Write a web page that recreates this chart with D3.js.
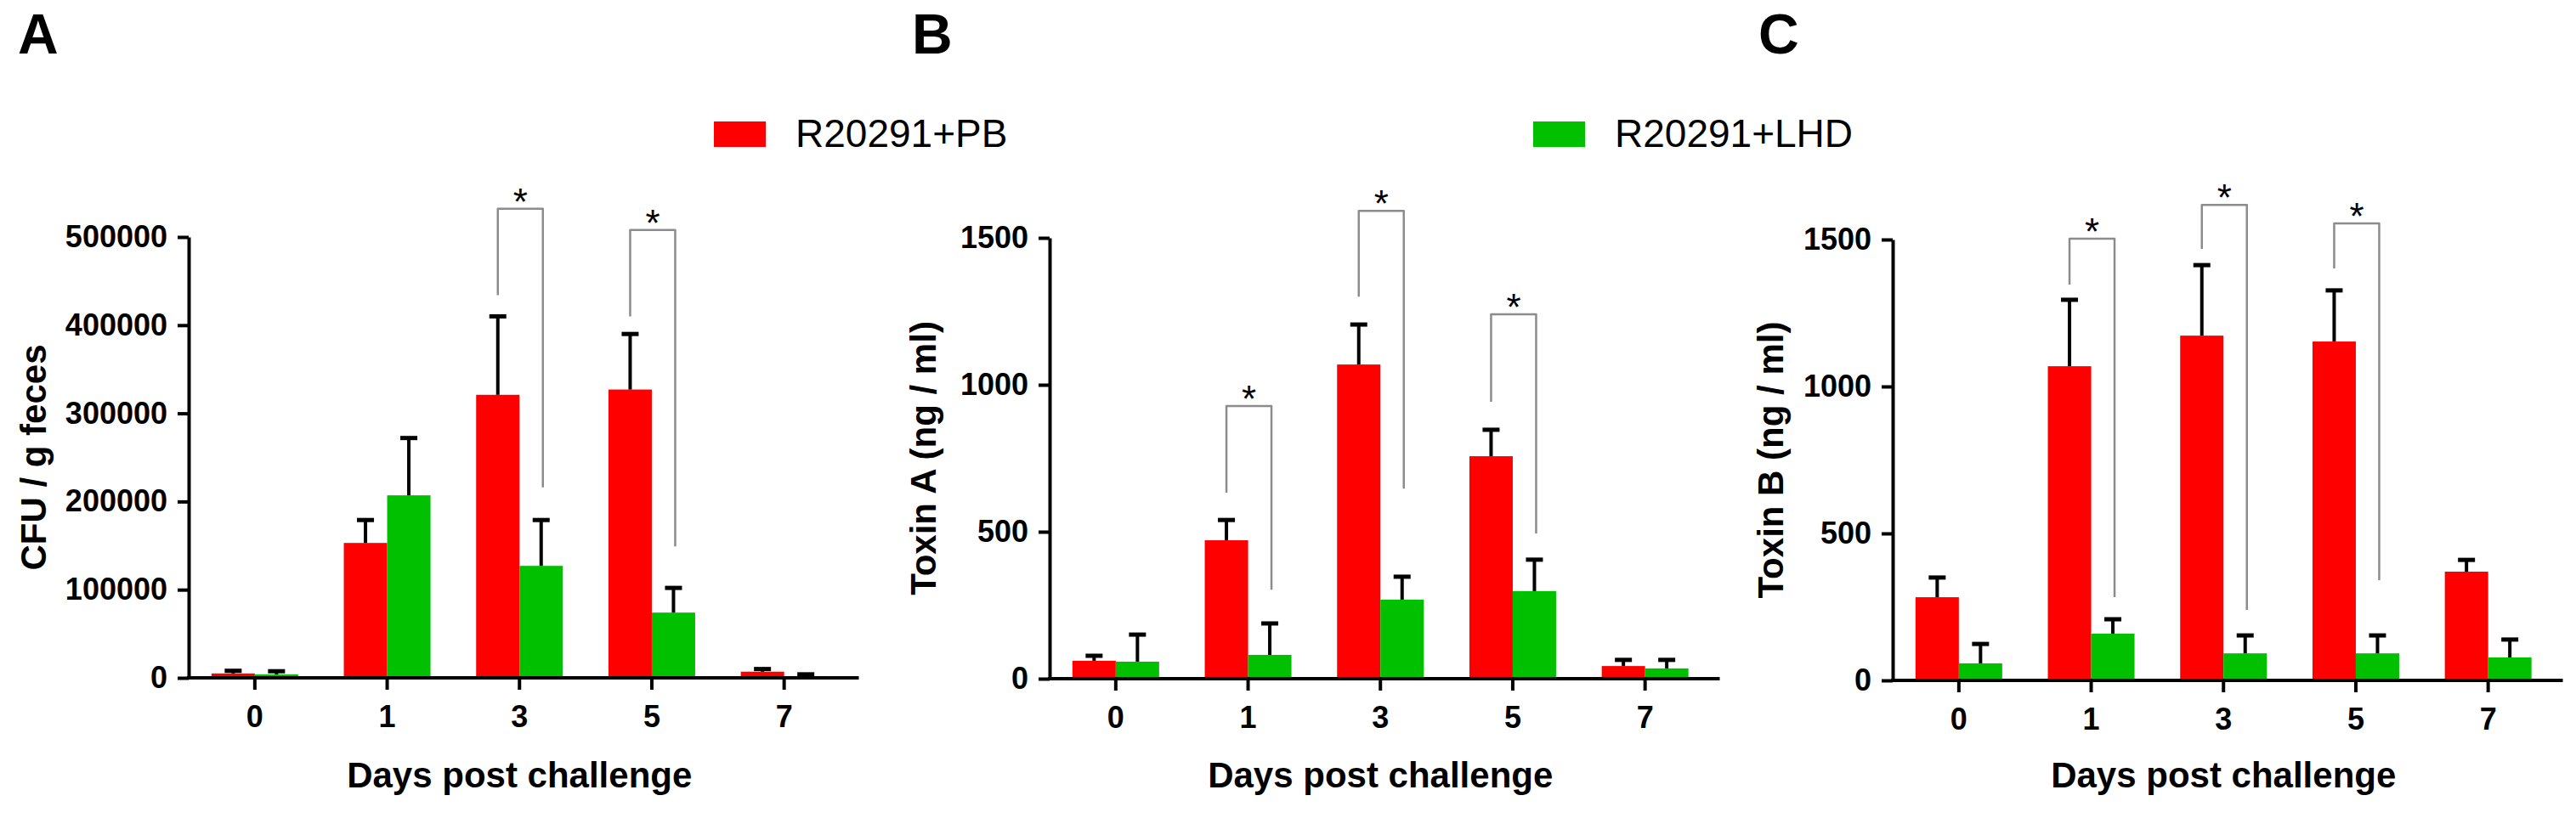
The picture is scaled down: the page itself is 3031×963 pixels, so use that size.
<!DOCTYPE html>
<html>
<head>
<meta charset="utf-8">
<script src="https://cdn.jsdelivr.net/npm/d3@7"></script>
<style>
    body { margin: 0; background: #fff; }
    text { font-family: "Liberation Sans", Arial, Helvetica, sans-serif; }
</style>
</head>
<body>
<svg id="chart" width="3031" height="963"></svg>
<script>
// values: mean and upper error (SEM) per day
var days = ["0", "1", "3", "5", "7"];
var seriesNames = ["R20291+PB", "R20291+LHD"];
var seriesColors = ["#ff0000", "#00c000"];

var cfuPB = [5000, 153000, 321000, 327000, 7000],
    cfuPBErr = [3000, 26000, 89000, 63000, 3000],
    cfuLHD = [4000, 207000, 127000, 74000, 2000],
    cfuLHDErr = [3500, 65000, 52000, 28000, 2000];

var toxAPB = [61, 471, 1069, 757, 43],
    toxAPBErr = [17, 69, 136, 90, 21],
    toxALHD = [58, 81, 269, 298, 35],
    toxALHDErr = [92, 107, 78, 107, 29];

var toxBPB = [283, 1069, 1173, 1153, 370],
    toxBPBErr = [67, 226, 240, 174, 40],
    toxBLHD = [58, 159, 92, 92, 78],
    toxBLHDErr = [66, 49, 61, 61, 61];

// significance brackets: day, bracket top, left leg end, right leg end (axis units)
var cfuSig = [["3", 532000, 434000, 216000], ["5", 508000, 410000, 149000]];
var toxASig = [["1", 928, 633, 303], ["3", 1592, 1300, 647], ["5", 1240, 942, 494]];
var toxBSig = [["1", 1503, 1347, 283], ["3", 1618, 1468, 240], ["5", 1555, 1402, 341]];

var cfuTicks = [0, 100000, 200000, 300000, 400000, 500000];
var toxTicks = [0, 500, 1000, 1500];

var panels = [
    { letter: "A", letterX: 21, axisX: 222, y0: 798, yTop: 279, max: 500000, ticks: cfuTicks,
      title: "CFU / g feces", titleX: 54,
      pb: cfuPB, pbErr: cfuPBErr, lhd: cfuLHD, lhdErr: cfuLHDErr, sig: cfuSig },
    { letter: "B", letterX: 1073, axisX: 1235, y0: 799, yTop: 280, max: 1500, ticks: toxTicks,
      title: "Toxin A (ng / ml)", titleX: 1101,
      pb: toxAPB, pbErr: toxAPBErr, lhd: toxALHD, lhdErr: toxALHDErr, sig: toxASig },
    { letter: "C", letterX: 2069, axisX: 2227, y0: 801, yTop: 282, max: 1500, ticks: toxTicks,
      title: "Toxin B (ng / ml)", titleX: 2098,
      pb: toxBPB, pbErr: toxBPBErr, lhd: toxBLHD, lhdErr: toxBLHDErr, sig: toxBSig }
];

var svg = d3.select("#chart");
var bandStep = 155.7,
    barW = 51,
    capW = 20;

function drawPanel(p) {

    let g = svg.append("g");

    let x = d3.scaleBand()
        .domain(days)
        .range([p.axisX, p.axisX + bandStep * days.length]);

    let y = d3.scaleLinear()
        .domain([0, p.max])
        .range([p.y0, p.yTop]);

    let rows = days.map(function(d, i) {
        return [
            { day: d, s: 0, v: p.pb[i], e: p.pbErr[i] },
            { day: d, s: 1, v: p.lhd[i], e: p.lhdErr[i] }
        ];
    }).flat();

    function cx(d) {
        let c = x(d.day) + x.bandwidth() / 2;
        return d.s === 0 ? c - barW / 2 : c + barW / 2;
    }

    // bars
    g.selectAll(".bar")
        .data(rows)
        .enter().append("rect")
        .attr("class", "bar")
        .attr("x", function(d) { return cx(d) - barW / 2; })
        .attr("y", function(d) { return y(d.v); })
        .attr("width", barW)
        .attr("height", function(d) { return p.y0 - y(d.v); })
        .attr("fill", function(d) { return seriesColors[d.s]; });

    // error bars (upper only)
    let err = g.selectAll(".err")
        .data(rows)
        .enter().append("g")
        .attr("class", "err")
        .attr("stroke", "#000");

    err.append("line")
        .attr("x1", cx).attr("x2", cx)
        .attr("y1", function(d) { return y(d.v); })
        .attr("y2", function(d) { return y(d.v + d.e); })
        .attr("stroke-width", 4);

    err.append("line")
        .attr("x1", function(d) { return cx(d) - capW / 2; })
        .attr("x2", function(d) { return cx(d) + capW / 2; })
        .attr("y1", function(d) { return y(d.v + d.e); })
        .attr("y2", function(d) { return y(d.v + d.e); })
        .attr("stroke-width", 5);

    // y axis
    let yAxis = g.append("g")
        .attr("transform", "translate(" + p.axisX + ",0)")
        .call(d3.axisLeft(y).tickValues(p.ticks).tickSize(13).tickSizeOuter(0).tickPadding(12)
            .tickFormat(d3.format("d")));
    yAxis.select(".domain").attr("stroke-width", 4);
    yAxis.selectAll(".tick line").attr("stroke-width", 4);
    yAxis.selectAll(".tick text")
        .attr("font-size", 36)
        .attr("font-weight", "bold")
        .attr("fill", "#000")
        .attr("font-family", "Liberation Sans, Arial, sans-serif");

    // x axis
    let xAxis = g.append("g")
        .attr("transform", "translate(0," + p.y0 + ")")
        .call(d3.axisBottom(x).tickSize(14).tickSizeOuter(0).tickPadding(18));
    xAxis.select(".domain").remove();
    xAxis.append("line")
        .attr("x1", p.axisX - 2)
        .attr("x2", x.range()[1] + 10)
        .attr("stroke", "#000")
        .attr("stroke-width", 4);
    xAxis.selectAll(".tick line").attr("stroke-width", 4);
    xAxis.selectAll(".tick text")
        .attr("font-size", 36)
        .attr("font-weight", "bold")
        .attr("fill", "#000")
        .attr("font-family", "Liberation Sans, Arial, sans-serif");

    // axis titles
    g.append("text")
        .attr("x", x(days[2]) + x.bandwidth() / 2)
        .attr("y", 927)
        .attr("text-anchor", "middle")
        .attr("font-size", 42)
        .attr("font-weight", "bold")
        .text("Days post challenge");

    g.append("text")
        .attr("transform", "translate(" + p.titleX + "," + (p.y0 + p.yTop) / 2 + ") rotate(-90)")
        .attr("text-anchor", "middle")
        .attr("font-size", 42)
        .attr("font-weight", "bold")
        .text(p.title);

    // panel letter
    g.append("text")
        .attr("x", p.letterX)
        .attr("y", 63)
        .attr("font-size", 66)
        .attr("font-weight", "bold")
        .text(p.letter);

    // significance brackets
    let sig = g.selectAll(".sig")
        .data(p.sig)
        .enter().append("g")
        .attr("class", "sig");

    sig.append("path")
        .attr("d", function(d) {
            let c = x(d[0]) + x.bandwidth() / 2;
            let xl = c - barW / 2, xr = c + barW / 2 + 2;
            return "M" + xl + "," + y(d[2]) + "V" + y(d[1]) + "H" + xr + "V" + y(d[3]);
        })
        .attr("fill", "none")
        .attr("stroke", "#8c8c8c")
        .attr("stroke-width", 2.5)
        .attr("stroke-linejoin", "round");

    sig.append("text")
        .attr("x", function(d) { return x(d[0]) + x.bandwidth() / 2 + 1; })
        .attr("y", function(d) { return y(d[1]) + 7; })
        .attr("text-anchor", "middle")
        .attr("font-size", 44)
        .text("*");
}

panels.forEach(drawPanel);

// legend
var legendX = [840, 1804];
var legend = svg.selectAll(".legend")
    .data(seriesNames)
    .enter().append("g")
    .attr("class", "legend")
    .attr("transform", function(d, i) { return "translate(" + legendX[i] + ",143)"; });

legend.append("rect")
    .attr("width", 61)
    .attr("height", 30)
    .attr("fill", function(d, i) { return seriesColors[i]; });

legend.append("text")
    .attr("x", 96)
    .attr("y", 30)
    .attr("font-size", 46)
    .text(function(d) { return d; });
</script>
</body>
</html>
